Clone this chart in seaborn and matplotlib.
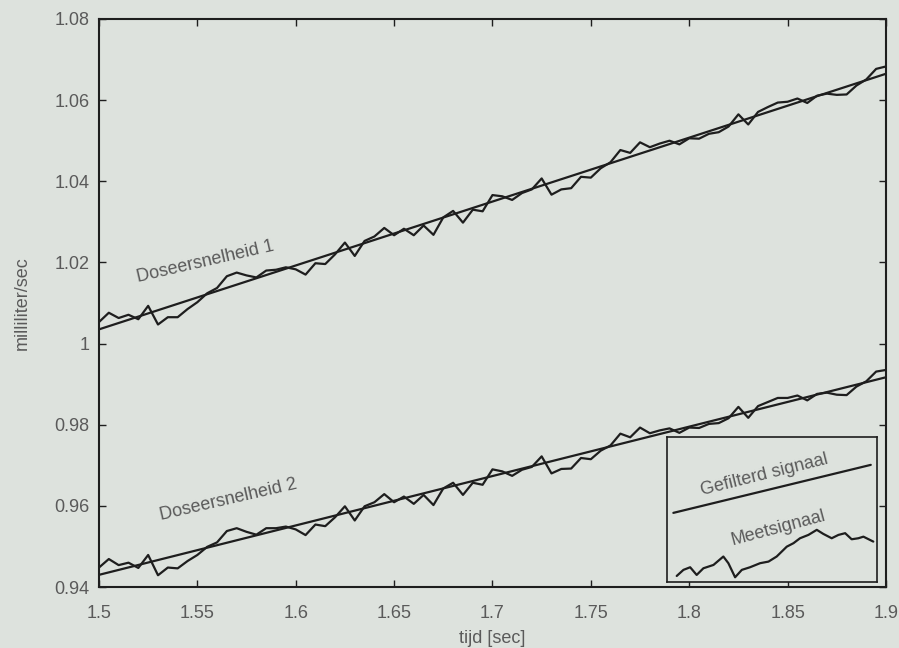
import numpy as np
import matplotlib
matplotlib.use("Agg")
import matplotlib.pyplot as plt
import seaborn as sns

# time axis (sec), one sample per 5 ms
tijd = np.round(np.arange(81) * 0.005 + 1.5, 3)

meet_1 = [1.0053, 1.0076, 1.0063, 1.0071, 1.0060, 1.0093, 1.0047, 1.0065, 1.0065, 1.0085,
          1.0102, 1.0124, 1.0137, 1.0166, 1.0175, 1.0168, 1.0163, 1.0180, 1.0182, 1.0188,
          1.0183, 1.0170, 1.0198, 1.0196, 1.0220, 1.0249, 1.0216, 1.0253, 1.0264, 1.0285,
          1.0267, 1.0283, 1.0267, 1.0291, 1.0268, 1.0311, 1.0327, 1.0298, 1.0330, 1.0326,
          1.0366, 1.0363, 1.0354, 1.0371, 1.0380, 1.0407, 1.0367, 1.0380, 1.0383, 1.0411,
          1.0409, 1.0432, 1.0447, 1.0477, 1.0470, 1.0496, 1.0484, 1.0493, 1.0500, 1.0491,
          1.0506, 1.0505, 1.0517, 1.0521, 1.0535, 1.0565, 1.0540, 1.0571, 1.0583, 1.0594,
          1.0596, 1.0604, 1.0593, 1.0611, 1.0616, 1.0613, 1.0614, 1.0636, 1.0651, 1.0677,
          1.0683]

# measured signal 2 (Doseersnelheid 2)
meet_2 = [0.9448, 0.9469, 0.9454, 0.9460, 0.9447, 0.9479, 0.9429, 0.9448, 0.9446, 0.9464,
          0.9479, 0.9499, 0.9510, 0.9538, 0.9545, 0.9536, 0.9529, 0.9545, 0.9545, 0.9549,
          0.9542, 0.9528, 0.9554, 0.9550, 0.9572, 0.9599, 0.9564, 0.9599, 0.9609, 0.9629,
          0.9609, 0.9623, 0.9605, 0.9627, 0.9602, 0.9643, 0.9657, 0.9627, 0.9657, 0.9652,
          0.9690, 0.9685, 0.9674, 0.9689, 0.9696, 0.9722, 0.9680, 0.9691, 0.9692, 0.9718,
          0.9715, 0.9736, 0.9749, 0.9778, 0.9769, 0.9793, 0.9779, 0.9786, 0.9791, 0.9780,
          0.9793, 0.9792, 0.9802, 0.9804, 0.9816, 0.9844, 0.9817, 0.9846, 0.9856, 0.9866,
          0.9866, 0.9872, 0.9860, 0.9876, 0.9879, 0.9874, 0.9873, 0.9894, 0.9907, 0.9931,
          0.9935]

# filtered (straight) signals: end points
filt_t = [1.5, 1.9]
filt_1 = [1.0035, 1.0665]
filt_2 = [0.9430, 0.9917]

# legend box samples (box coordinates 0..1)
leg_filt_x = [0.03, 0.97]
leg_filt_y = [0.476, 0.807]
leg_meet_x = [0.046, 0.078, 0.110, 0.141, 0.173, 0.221, 0.268, 0.292, 0.324, 0.356,
              0.395, 0.443, 0.483, 0.522, 0.546, 0.570, 0.602, 0.633, 0.673, 0.713,
              0.744, 0.784, 0.816, 0.848, 0.879, 0.911, 0.935, 0.982]
leg_meet_y = [0.041, 0.083, 0.101, 0.048, 0.094, 0.117, 0.175, 0.129, 0.032, 0.083,
              0.101, 0.129, 0.140, 0.175, 0.209, 0.243, 0.267, 0.301, 0.324, 0.359,
              0.331, 0.301, 0.324, 0.336, 0.294, 0.301, 0.312, 0.278]

xticks = [1.5, 1.55, 1.6, 1.65, 1.7, 1.75, 1.8, 1.85, 1.9]
xtick_labels = ["1.5", "1.55", "1.6", "1.65", "1.7", "1.75", "1.8", "1.85", "1.9"]
yticks = [0.94, 0.96, 0.98, 1.0, 1.02, 1.04, 1.06, 1.08]
ytick_labels = ["0.94", "0.96", "0.98", "1", "1.02", "1.04", "1.06", "1.08"]

bg = "#dde2dd"
ink = "#1e1e1e"
grey = "#5a5a5a"

sns.set_theme(style="ticks")
plt.rcParams["font.family"] = ["Liberation Sans", "DejaVu Sans"]

fig = plt.figure(figsize=(8.99, 6.48), dpi=100, facecolor=bg)
ax = fig.add_axes([0.1101, 0.0941, 0.8754, 0.8766], facecolor=bg)

for y in (meet_1, meet_2):
    sns.lineplot(x=tijd, y=y, ax=ax, color=ink, linewidth=1.6)
for y in (filt_1, filt_2):
    sns.lineplot(x=filt_t, y=y, ax=ax, color=ink, linewidth=1.6)

ax.set_xlim(1.5, 1.9)
ax.set_ylim(0.94, 1.08)
ax.set_xticks(xticks)
ax.set_xticklabels(xtick_labels)
ax.set_yticks(yticks)
ax.set_yticklabels(ytick_labels)
ax.tick_params(direction="in", length=5, width=1, colors=ink, labelcolor=grey,
               labelsize=13, top=True, right=True)
ax.tick_params(axis="x", pad=13)
ax.tick_params(axis="y", pad=7)
for s in ax.spines.values():
    s.set_visible(True)
    s.set_color(ink)
    s.set_linewidth(1.5)

ax.set_xlabel("tijd [sec]", fontsize=13, color=grey, labelpad=6)
ax.set_ylabel("milliliter/sec", fontsize=13, color=grey, labelpad=17)

ax.text(1.5539, 1.0201, "Doseersnelheid 1", rotation=13, ha="center", va="center",
        fontsize=13, color=grey, rotation_mode="anchor")
ax.text(1.5656, 0.9614, "Doseersnelheid 2", rotation=13, ha="center", va="center",
        fontsize=13, color=grey, rotation_mode="anchor")

# legend box
lax = fig.add_axes([0.742, 0.102, 0.2336, 0.2238], facecolor=bg)
sns.lineplot(x=leg_filt_x, y=leg_filt_y, ax=lax, color=ink, linewidth=1.6)
sns.lineplot(x=leg_meet_x, y=leg_meet_y, ax=lax, color=ink, linewidth=1.6)
lax.set_xlim(0, 1)
lax.set_ylim(0, 1)
lax.set_xticks([])
lax.set_yticks([])
lax.set_xlabel("")
lax.set_ylabel("")
for s in lax.spines.values():
    s.set_color(ink)
    s.set_linewidth(1.2)
lax.text(0.462, 0.735, "Gefilterd signaal", rotation=14, ha="center", va="center",
         fontsize=13, color=grey, rotation_mode="anchor")
lax.text(0.529, 0.372, "Meetsignaal", rotation=15, ha="center", va="center",
         fontsize=13, color=grey, rotation_mode="anchor")

fig.savefig("out.png", dpi=100, facecolor=bg)
